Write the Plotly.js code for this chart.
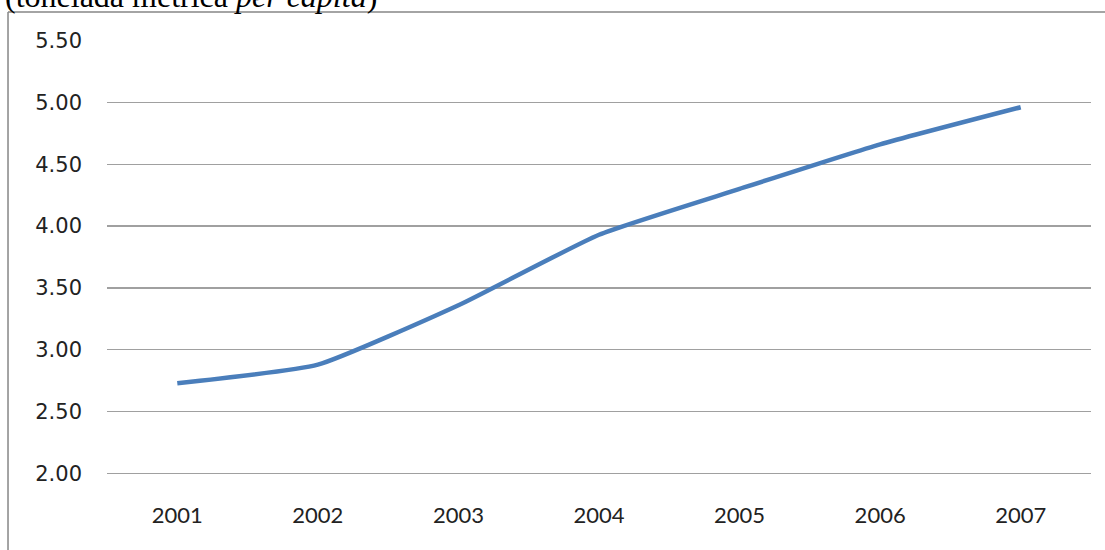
<!DOCTYPE html>
<html>
<head>
<meta charset="utf-8">
<script src="https://cdn.plot.ly/plotly-3.0.1.min.js"></script>
<style>
  html, body { margin: 0; padding: 0; background: #ffffff; }
  #chart { width: 1105px; height: 550px; }
</style>
</head>
<body>
<div id="chart"></div>
<script>
const years = ['2001', '2002', '2003', '2004', '2005', '2006', '2007'];
const values = [2.73, 2.88, 3.36, 3.93, 4.30, 4.66, 4.96];
const yTicks = [2.0, 2.5, 3.0, 3.5, 4.0, 4.5, 5.0, 5.5];
const titleText = '(tonelada métrica <i>per capita</i>)';

const trace = {
  x: years,
  y: values,
  type: 'scatter',
  mode: 'lines',
  line: { color: '#4A7EBB', width: 4.5, shape: 'spline', smoothing: 0.45 },
  hoverinfo: 'x+y'
};

const layout = {
  width: 1105,
  height: 550,
  margin: { l: 107, r: 14, t: 40, b: 76, pad: 0 },
  paper_bgcolor: '#ffffff',
  plot_bgcolor: '#ffffff',
  showlegend: false,
  xaxis: {
    type: 'category',
    range: [-0.5, 6.5],
    showgrid: false,
    zeroline: false,
    showline: false,
    ticks: '',
    ticklabelstandoff: 26,
    tickfont: { family: 'Lato, "Open Sans", sans-serif', size: 22, color: '#222222' }
  },
  yaxis: {
    range: [1.997, 5.503],
    tickvals: yTicks,
    tickformat: '.2f',
    showgrid: true,
    gridcolor: '#A0A0A0',
    gridwidth: 1.3,
    zeroline: false,
    showline: false,
    ticks: '',
    ticklabelstandoff: 24,
    tickfont: { family: '"DejaVu Sans", sans-serif', size: 21, color: '#222222' }
  },
  annotations: [{
    text: titleText,
    xref: 'paper', yref: 'paper',
    x: -0.1057, y: 1.1014,
    xanchor: 'left', yanchor: 'middle',
    showarrow: false,
    font: { family: '"Liberation Serif", "Times New Roman", serif', size: 32, color: '#000000' }
  }],
  shapes: [
    { type: 'line', xref: 'paper', yref: 'y', x0: 0, x1: 1, y0: yTicks[0], y1: yTicks[0],
      layer: 'below', line: { color: '#A0A0A0', width: 1.3 } },
    { type: 'line', xref: 'paper', yref: 'paper', x0: -0.1006, x1: -0.1006, y0: 1.0645, y1: -0.18,
      line: { color: '#868686', width: 1.5 } },
    { type: 'line', xref: 'paper', yref: 'paper', x0: -0.1006, x1: 1.02, y0: 1.0645, y1: 1.0645,
      line: { color: '#868686', width: 1.5 } }
  ]
};

Plotly.newPlot('chart', [trace], layout, { displayModeBar: false, staticPlot: true });
</script>
</body>
</html>
